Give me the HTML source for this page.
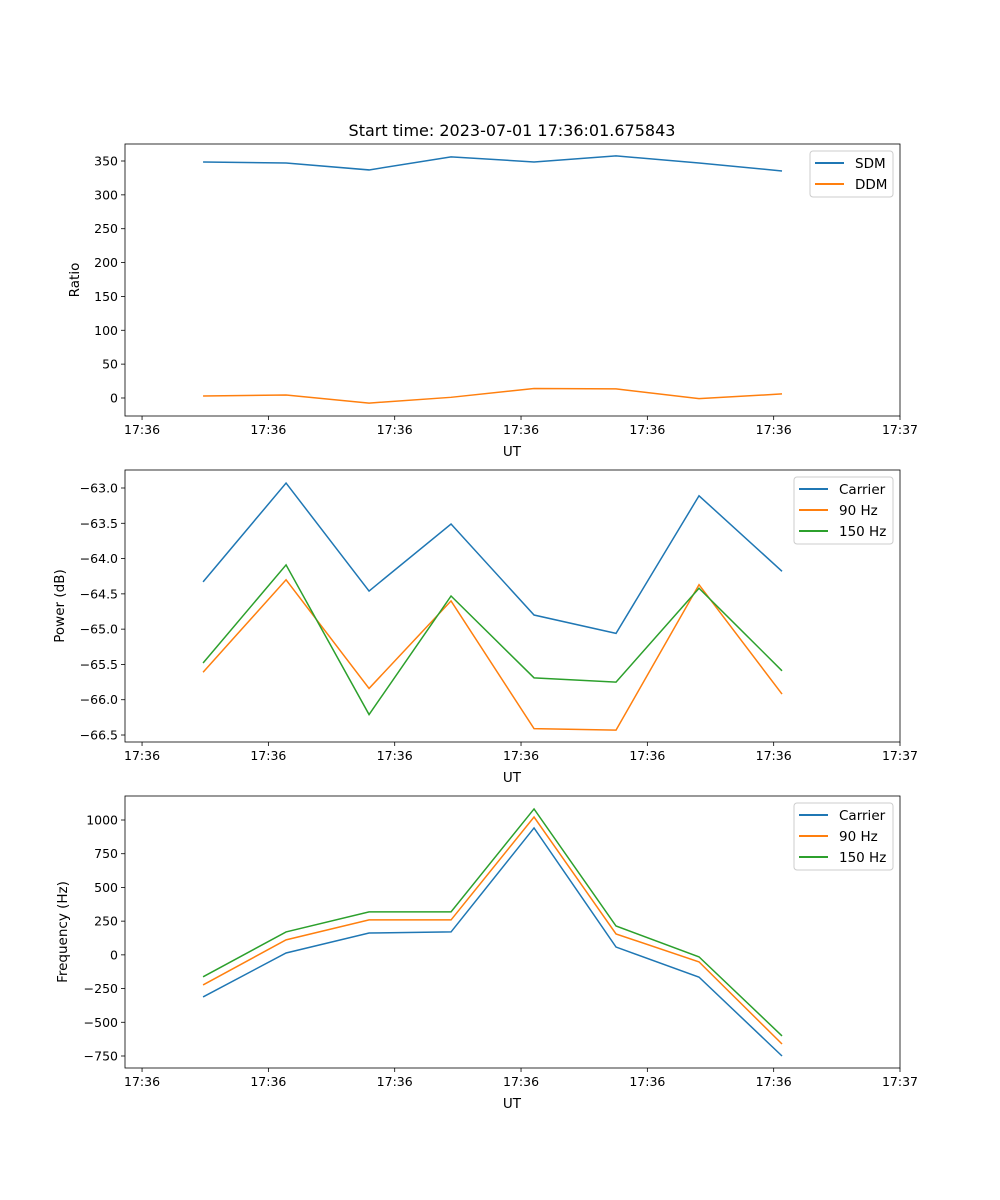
<!DOCTYPE html>
<html><head><meta charset="utf-8"><style>
body{margin:0;background:#fff}
svg{display:block;font-family:"DejaVu Sans","Liberation Sans",sans-serif}
</style></head><body>
<svg id="fig" width="1000" height="1200">
<text x="512" y="136" font-size="16" text-anchor="middle">Start time: 2023-07-01 17:36:01.675843</text>
</svg>
<script>
const times = [0.483, 1.14, 1.797, 2.446, 3.103, 3.752, 4.409, 5.066];
const xTickVals = [0, 1, 2, 3, 4, 5, 6];
const xTickLabels = ["17:36","17:36","17:36","17:36","17:36","17:36","17:37"];
const sdm = [348.6, 347.1, 336.8, 356, 348.6, 357.5, 347.1, 335.3];
const ddm = [3, 4.5, -7.5, 1, 14, 13.5, -1, 6];
const powCarrier = [-64.33, -62.93, -64.46, -63.51, -64.80, -65.06, -63.11, -64.18];
const pow90 = [-65.61, -64.30, -65.84, -64.60, -66.41, -66.43, -64.37, -65.92];
const pow150 = [-65.48, -64.09, -66.21, -64.53, -65.69, -65.75, -64.42, -65.59];
const freqCarrier = [-312, 14, 162, 170, 941, 58, -165, -750];
const freq90 = [-223, 111, 259, 259, 1022, 155, -52, -661];
const freq150 = [-163, 170, 319, 319, 1082, 214, -15, -601];
const ticks1 = [0, 50, 100, 150, 200, 250, 300, 350];
const ticks2 = [-66.5, -66.0, -65.5, -65.0, -64.5, -64.0, -63.5, -63.0];
const ticks3 = [-750, -500, -250, 0, 250, 500, 750, 1000];

const NS = "http://www.w3.org/2000/svg";
const svg = document.getElementById('fig');
const C = ["#1f77b4", "#ff7f0e", "#2ca02c"];
function mk(tag, attrs, parent) {
  const e = document.createElementNS(NS, tag);
  for (const k in attrs) e.setAttribute(k, attrs[k]);
  (parent || svg).appendChild(e);
  return e;
}
const X0 = 125, X1 = 900, xmin = -0.135, xmax = 6;
const xs = t => X0 + (t - xmin) / (xmax - xmin) * (X1 - X0);

function panel(key, top, bottom, ymin, ymax, yticks, fmt, ylabel, series, names, legW) {
  const g = mk('g', {});
  
  
  const ys = v => bottom - (v - ymin) / (ymax - ymin) * (bottom - top);
  series.forEach((s, i) => {
    const p = mk('polyline', {points: s.map((v, j) => xs(times[j]) + ',' + ys(v)).join(' '), fill: 'none', stroke: C[i], 'stroke-width': 1.5}, g);
    
    
  });
  const fr = mk('rect', {x: X0, y: top, width: X1 - X0, height: bottom - top, fill: 'none', stroke: '#000', 'stroke-width': 0.8}, g);
  
  
  xTickVals.forEach((t, i) => {
    const x = xs(t);
    mk('line', {x1: x, x2: x, y1: bottom, y2: bottom + 4, stroke: '#000', 'stroke-width': 0.8}, g);
    const tx = mk('text', {x: x, y: bottom + 18, 'font-size': 12.5, 'text-anchor': 'middle'}, g);
    tx.textContent = xTickLabels[i];
    
    
  });
  yticks.forEach(v => {
    const y = ys(v);
    mk('line', {x1: X0 - 4, x2: X0, y1: y, y2: y, stroke: '#000', 'stroke-width': 0.8}, g);
    const tx = mk('text', {x: X0 - 7, y: y + 4.5, 'font-size': 12.5, 'text-anchor': 'end'}, g);
    tx.textContent = fmt(v);
    
    
  });
  const xl = mk('text', {x: 512, y: bottom + 40, 'font-size': 13.5, 'text-anchor': 'middle'}, g);
  xl.textContent = 'UT';
  
  
  const yl = mk('text', {x: 0, y: 0, 'font-size': 13.5, 'text-anchor': 'middle', transform: 'translate(' + (ylabel.x) + ',' + ((top + bottom) / 2) + ') rotate(-90)'}, g);
  yl.textContent = ylabel.t;
  
  
  const lg = mk('g', {}, g);
  
  
  const lx = 893 - legW, ly = top + 7;
  mk('rect', {x: lx, y: ly, width: legW, height: names.length * 21 + 4, rx: 3, fill: '#fff', stroke: '#ccc', 'stroke-width': 1}, lg);
  names.forEach((n, i) => {
    const yy = ly + 12 + i * 21;
    mk('line', {x1: lx + 5, x2: lx + 34, y1: yy, y2: yy, stroke: C[i], 'stroke-width': 2}, lg);
    const t = mk('text', {x: lx + 45, y: yy + 5, 'font-size': 13.5}, lg);
    t.textContent = n;
    
    
  });
}
panel('ratio', 144, 416, -26.6, 375.1, ticks1, v => String(v), {x: 79, t: 'Ratio'}, [sdm, ddm], ['SDM', 'DDM'], 83);
panel('power', 470, 742, -66.599, -62.745, ticks2, v => v.toFixed(1).replace('-', '\u2212'), {x: 64, t: 'Power (dB)'}, [powCarrier, pow90, pow150], ['Carrier', '90 Hz', '150 Hz'], 99);
panel('frequency', 796, 1068, -839, 1178, ticks3, v => String(v).replace('-', '\u2212'), {x: 67, t: 'Frequency (Hz)'}, [freqCarrier, freq90, freq150], ['Carrier', '90 Hz', '150 Hz'], 99);
</script>
</body></html>
